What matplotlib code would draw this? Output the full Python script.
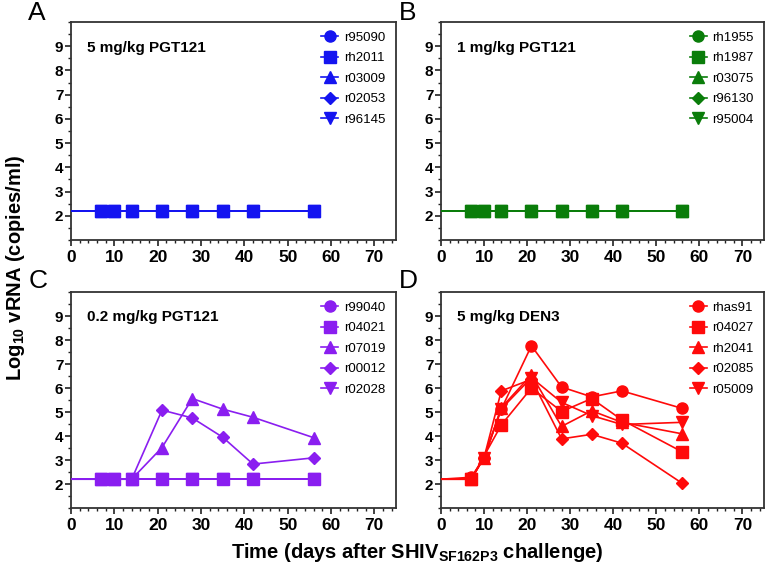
import matplotlib
matplotlib.use("Agg")
import matplotlib.pyplot as plt
from matplotlib.ticker import MultipleLocator

plt.rcParams['font.family'] = ['Liberation Sans', 'DejaVu Sans']
plt.rcParams['mathtext.fontset'] = 'custom'
plt.rcParams['mathtext.rm'] = 'Liberation Sans'
plt.rcParams['mathtext.bf'] = 'Liberation Sans:bold'

days = [0, 7, 10, 14, 21, 28, 35, 42, 56]

# Panel A: 5 mg/kg PGT121
a_names = ["r95090", "rh2011", "r03009", "r02053", "r96145"]
a_vals = [
    [2.2, 2.2, 2.2, 2.2, 2.2, 2.2, 2.2, 2.2, 2.2],
    [2.2, 2.2, 2.2, 2.2, 2.2, 2.2, 2.2, 2.2, 2.2],
    [2.2, 2.2, 2.2, 2.2, 2.2, 2.2, 2.2, 2.2, 2.2],
    [2.2, 2.2, 2.2, 2.2, 2.2, 2.2, 2.2, 2.2, 2.2],
    [2.2, 2.2, 2.2, 2.2, 2.2, 2.2, 2.2, 2.2, 2.2],
]
# Panel B: 1 mg/kg PGT121
b_names = ["rh1955", "rh1987", "r03075", "r96130", "r95004"]
b_vals = [
    [2.2, 2.2, 2.2, 2.2, 2.2, 2.2, 2.2, 2.2, 2.2],
    [2.2, 2.2, 2.2, 2.2, 2.2, 2.2, 2.2, 2.2, 2.2],
    [2.2, 2.2, 2.2, 2.2, 2.2, 2.2, 2.2, 2.2, 2.2],
    [2.2, 2.2, 2.2, 2.2, 2.2, 2.2, 2.2, 2.2, 2.2],
    [2.2, 2.2, 2.2, 2.2, 2.2, 2.2, 2.2, 2.2, 2.2],
]
# Panel C: 0.2 mg/kg PGT121
c_names = ["r99040", "r04021", "r07019", "r00012", "r02028"]
c_vals = [
    [2.2, 2.2, 2.2, 2.2, 2.2, 2.2, 2.2, 2.2, 2.2],
    [2.2, 2.2, 2.2, 2.2, 2.2, 2.2, 2.2, 2.2, 2.2],
    [2.2, 2.2, 2.2, 2.2, 3.52, 5.56, 5.12, 4.78, 3.93],
    [2.2, 2.2, 2.2, 2.2, 5.08, 4.75, 3.95, 2.83, 3.09],
    [2.2, 2.2, 2.2, 2.2, 2.2, 2.2, 2.2, 2.2, 2.2],
]
# Panel D: 5 mg/kg DEN3 (None = no sample)
d_names = ["rhas91", "r04027", "rh2041", "r02085", "r05009"]
d_vals = [
    [2.2, 2.28, 3.09, 5.12, 7.76, 6.04, 5.63, 5.88, 5.15],
    [2.2, 2.2, None, 4.46, 6.0, 5.02, 5.56, 4.67, 3.34],
    [2.2, 2.2, 3.1, 5.18, 6.55, 4.4, 5.05, 4.57, 4.09],
    [2.2, 2.2, 3.1, 5.88, 6.36, 3.88, 4.07, 3.7, 2.03],
    [2.2, 2.2, 3.1, 5.13, 6.43, 5.4, 4.85, 4.48, 4.57],
]

panels = [
    ("A", "5 mg/kg PGT121", a_names, a_vals, "#1414f0", [2.5, 3.2, 2.6, 2.7, 2.4]),
    ("B", "1 mg/kg PGT121", b_names, b_vals, "#0a7d0a", [2.5, 3.2, 2.6, 2.7, 2.4]),
    ("C", "0.2 mg/kg PGT121", c_names, c_vals, "#8a1ef0", [2.5, 3.2, 2.6, 2.7, 2.4]),
    ("D", "5 mg/kg DEN3", d_names, d_vals, "#ff0a0a", [3.0, 3.5, 2.8, 2.6, 2.7]),
]
markers = ["o", "s", "^", "D", "v"]
msizes = [8, 8, 8, 6.5, 8]

W, H = 768, 572
fig = plt.figure(figsize=(W / 100, H / 100), dpi=100)

boxes = {
    "A": (71, 22, 325, 218),
    "B": (441, 22, 323, 218),
    "C": (71, 292, 325, 216),
    "D": (441, 292, 323, 216),
}
letter_pos = {"A": (28, 13), "B": (399, 13), "C": (29, 281), "D": (399, 281)}

for letter, title, names, vals, color, zords in panels:
    x0, y0, w, h = boxes[letter]
    ax = fig.add_axes([x0 / W, 1 - (y0 + h) / H, w / W, h / H])
    for i, (nm, v) in enumerate(zip(names, vals)):
        xs = [d for d, val in zip(days, v) if val is not None]
        ys = [val for val in v if val is not None]
        ax.plot(xs, ys, color=color, lw=1.2, marker=markers[i], ms=msizes[i],
                markevery=slice(1, None), label=nm, zorder=zords[i])
    ax.set_xlim(0, 75)
    ax.set_ylim(1, 10)
    ax.xaxis.set_major_locator(MultipleLocator(10))
    ax.xaxis.set_minor_locator(MultipleLocator(2))
    ax.set_yticks([2, 3, 4, 5, 6, 7, 8, 9])
    ax.yaxis.set_minor_locator(MultipleLocator(0.5))
    ax.tick_params(axis="both", which="major", direction="out", length=4,
                   width=1.2, color="#222222")
    ax.tick_params(axis="both", which="minor", direction="out", length=2.5,
                   width=1.0, color="#222222")
    ax.tick_params(axis="x", pad=3)
    ax.tick_params(axis="y", pad=1.5)
    for lab in ax.get_xticklabels():
        lab.set_fontweight("bold")
        lab.set_fontsize(12.5)
    for lab in ax.get_yticklabels():
        lab.set_fontweight("bold")
        lab.set_fontsize(11)
    for sp in ax.spines.values():
        sp.set_linewidth(1.3)
        sp.set_color("#333333")
    ax.text(0.05, 0.882, title, transform=ax.transAxes, fontsize=11,
            fontweight="bold", ha="left", va="center")
    ax.legend(loc="upper left", bbox_to_anchor=(0.77, 0.955),
              frameon=False, fontsize=9.5, handlelength=1.3,
              handletextpad=0.4, labelspacing=0.62, borderpad=0,
              borderaxespad=0, numpoints=1)
    lx, ly = letter_pos[letter]
    fig.text(lx / W, 1 - ly / H, letter, fontsize=19, ha="left", va="center")

fig.text(16 / W, 1 - 268 / H, r"Log$_{\mathbf{10}}$ vRNA (copies/ml)", rotation=90,
         fontsize=14.5, fontweight="bold", ha="center", va="center")
fig.text(417 / W, 1 - 553 / H, r"Time (days after SHIV$_{\mathbf{SF162P3}}$ challenge)",
         fontsize=14.5, fontweight="bold", ha="center", va="center")

fig.savefig("out.png", dpi=100)
